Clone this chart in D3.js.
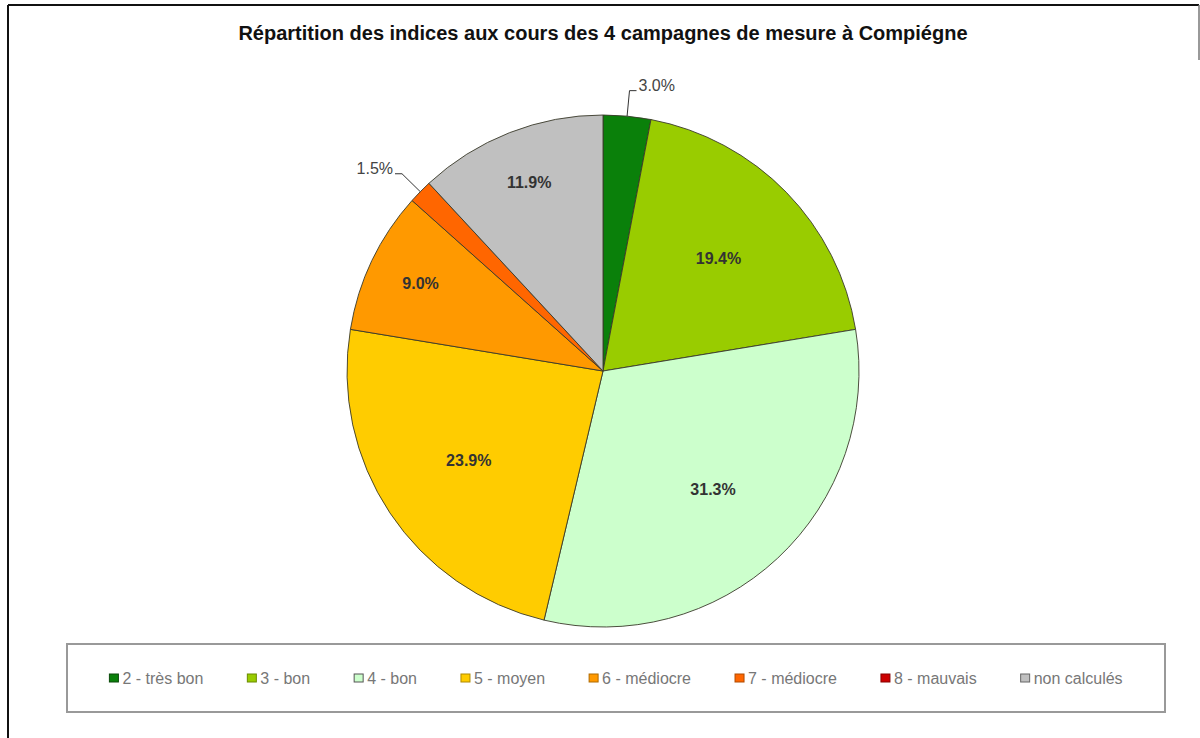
<!DOCTYPE html>
<html>
<head>
<meta charset="utf-8">
<script src="https://cdn.jsdelivr.net/npm/d3@7"></script>
<style>
  html, body { margin: 0; padding: 0; background: #fff; }
  svg { display: block; font-family: Arial, "Liberation Sans", sans-serif; }
</style>
</head>
<body>
<svg id="chart" width="1200" height="738"></svg>
<script>
// ---- data ----
const title = "Répartition des indices aux cours des 4 campagnes de mesure à Compiégne";
const categories = ["2 - très bon", "3 - bon", "4 - bon", "5 - moyen", "6 - médiocre", "7 - médiocre", "8 - mauvais", "non calculés"];
const values = [3.0, 19.4, 31.3, 23.9, 9.0, 1.5, 0.0, 11.9];
const colors = ["#0a800a", "#99cc00", "#ccffcc", "#ffcc00", "#ff9900", "#ff6600", "#cc0000", "#c0c0c0"];
const markerStrokes = ["#0a4a0a", "#6a8a00", "#555555", "#b08a00", "#b06a00", "#b04a00", "#880000", "#666666"];

// ---- layout ----
const W = 1200, H = 738;
const svg = d3.select("#chart");
svg.append("rect").attr("x", 0).attr("y", 0).attr("width", W).attr("height", H).attr("fill", "#fff");

// outer frame
svg.append("line").attr("x1", 8).attr("y1", 5).attr("x2", 1199).attr("y2", 5).attr("stroke", "#111").attr("stroke-width", 2);
svg.append("line").attr("x1", 8).attr("y1", 5).attr("x2", 8).attr("y2", H).attr("stroke", "#111").attr("stroke-width", 2);
svg.append("line").attr("x1", 1199).attr("y1", 5).attr("x2", 1199).attr("y2", 60).attr("stroke", "#777").attr("stroke-width", 1.5);

// title
svg.append("text")
  .attr("x", 603).attr("y", 40)
  .attr("text-anchor", "middle")
  .attr("font-size", 20).attr("font-weight", "bold").attr("fill", "#111")
  .text(title);

// pie
const cx = 603, cy = 371, R = 256;
const g = svg.append("g").attr("transform", `translate(${cx},${cy})`);
const pie = d3.pie().sort(null).value(d => d.v);
const data = categories.map((c, i) => ({ c, v: values[i], col: colors[i] }));
const arcs = pie(data);
const arc = d3.arc().innerRadius(0).outerRadius(R);

g.selectAll("path.slice").data(arcs.filter(d => d.data.v > 0)).join("path")
  .attr("class", "slice")
  .attr("d", arc)
  .attr("fill", d => d.data.col)
  .attr("stroke", "#3a3a2a")
  .attr("stroke-width", 0.9)
  .attr("stroke-linejoin", "round");

const fmt = v => v.toFixed(1) + "%";

arcs.filter(d => d.data.v > 0).forEach(d => {
  const a = (d.startAngle + d.endAngle) / 2;
  const sx = Math.sin(a), sy = -Math.cos(a);
  if (d.data.v < 5) {
    const p0 = [R * sx, R * sy];
    const p1 = [R * 1.1 * sx, R * 1.1 * sy];
    const dir = sx >= 0 ? 1 : -1;
    const p2 = [p1[0] + dir * 7, p1[1]];
    g.append("polyline")
      .attr("points", [p0, p1, p2].map(p => p.join(",")).join(" "))
      .attr("fill", "none").attr("stroke", "#333").attr("stroke-width", 1);
    g.append("text")
      .attr("x", p2[0] + dir * 2).attr("y", p1[1])
      .attr("text-anchor", dir > 0 ? "start" : "end")
      .attr("font-size", 16).attr("fill", "#444")
      .text(fmt(d.data.v));
  } else {
    const f = d.data.v > 15 ? 0.63 : 0.79;
    g.append("text")
      .attr("x", R * f * sx).attr("y", R * f * sy)
      .attr("dy", "0.35em")
      .attr("text-anchor", "middle")
      .attr("font-size", 16).attr("font-weight", "bold").attr("fill", "#333")
      .text(fmt(d.data.v));
  }
});

// legend
const lx0 = 67, ly0 = 644, lx1 = 1165, ly1 = 712;
svg.append("rect").attr("x", lx0).attr("y", ly0).attr("width", lx1 - lx0).attr("height", ly1 - ly0)
  .attr("fill", "#fff").attr("stroke", "#999").attr("stroke-width", 2);

const lg = svg.append("g");
const items = lg.selectAll("g.item").data(categories.map((c, i) => ({ c, i }))).join("g").attr("class", "item");
items.append("rect").attr("class", "mk")
  .attr("width", 9).attr("height", 8)
  .attr("fill", d => colors[d.i]).attr("stroke", d => markerStrokes[d.i]).attr("stroke-width", 1);
items.append("text").attr("class", "lt")
  .attr("font-size", 16).attr("fill", "#777")
  .text(d => d.c);

const gap = 44, mkW = 13;
const widths = [];
items.select("text").each(function () { widths.push(this.getComputedTextLength()); });
const total = widths.reduce((s, w) => s + mkW + w, 0) + gap * (widths.length - 1);
let x = (lx0 + lx1) / 2 - total / 2;
const ly = 678;
items.each(function (d, i) {
  const it = d3.select(this);
  it.select("rect").attr("x", x).attr("y", ly - 4);
  it.select("text").attr("x", x + mkW).attr("y", ly + 6);
  x += mkW + widths[i] + gap;
});
</script>
</body>
</html>
